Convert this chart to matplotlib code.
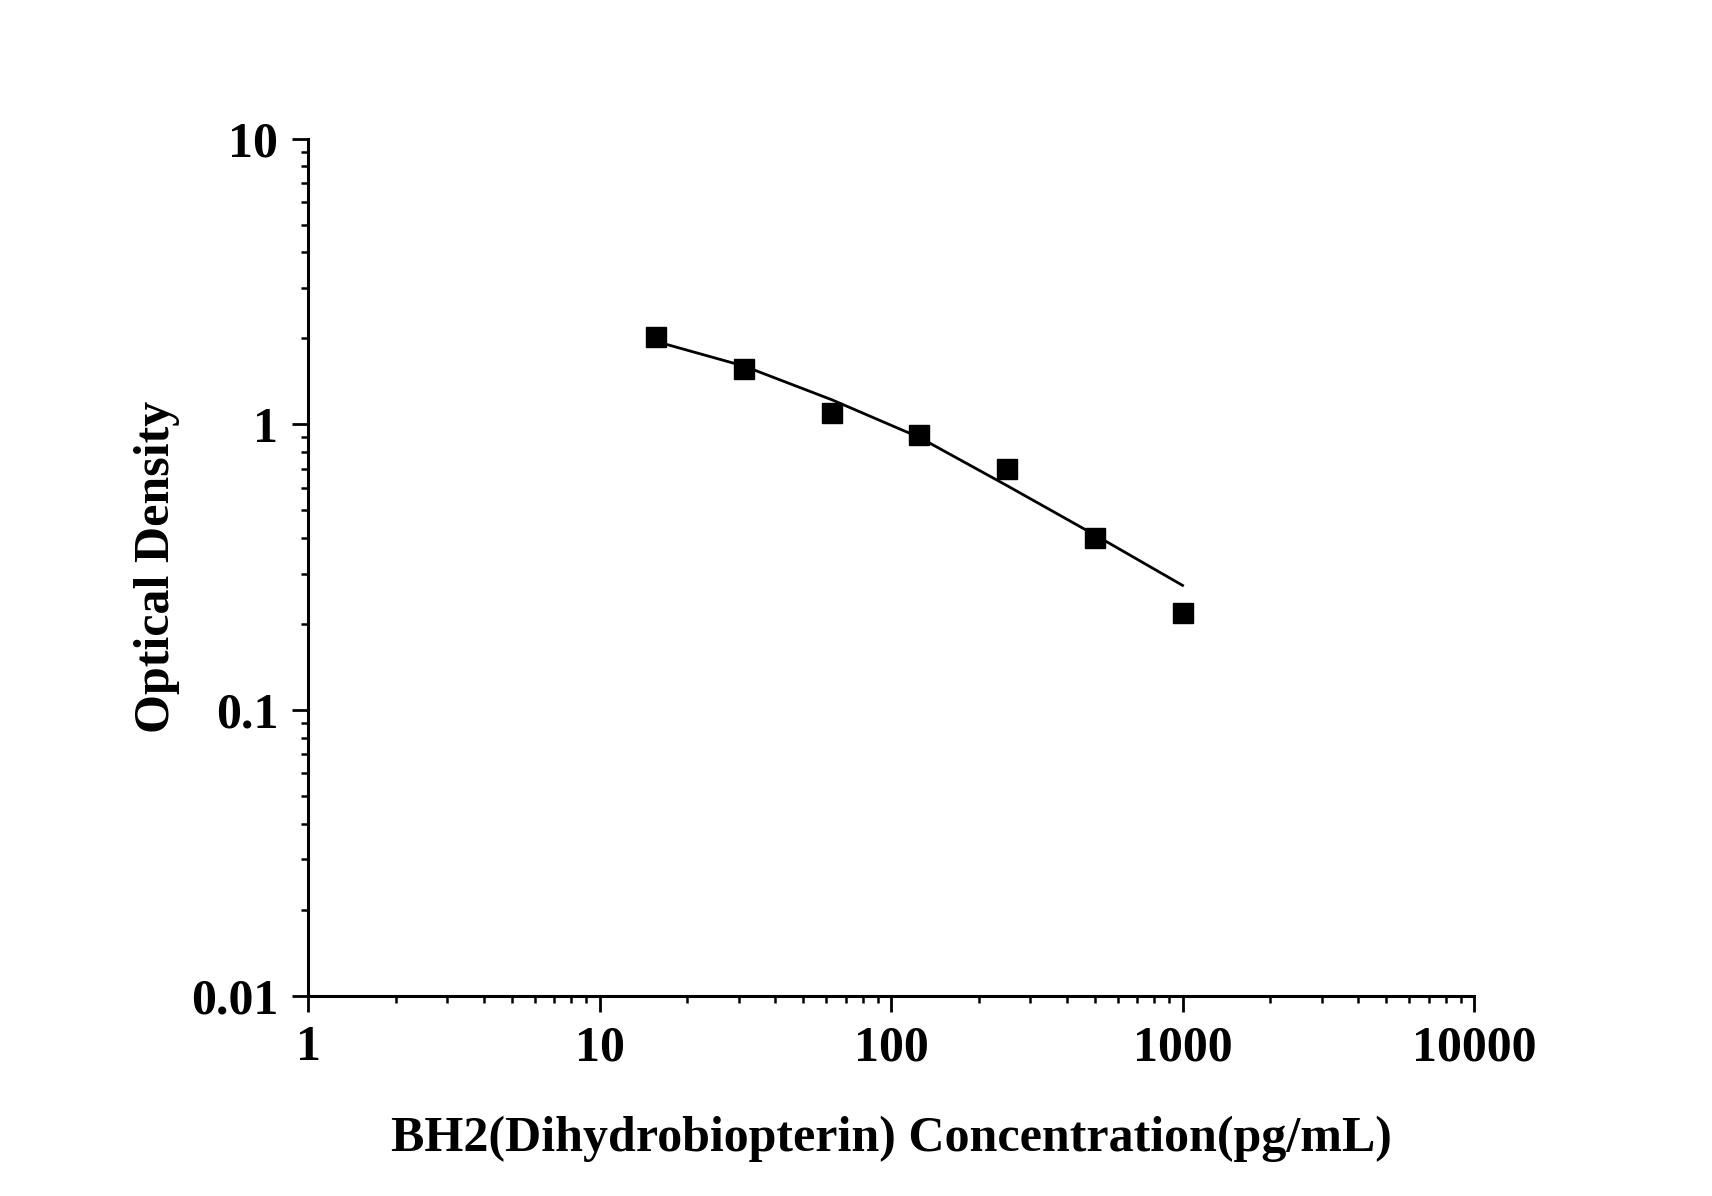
import matplotlib
matplotlib.use("Agg")
import matplotlib.pyplot as plt
from matplotlib.ticker import LogLocator, FixedLocator, NullFormatter, FixedFormatter

conc = [15.625, 31.25, 62.5, 125, 250, 500, 1000]
od = [2.03, 1.56, 1.10, 0.92, 0.70, 0.40, 0.218]
fit_od = [1.95, 1.60, 1.22, 0.90, 0.61, 0.41, 0.273]

xticks = [1, 10, 100, 1000, 10000]
xtick_labels = ["1", "10", "100", "1000", "10000"]
yticks = [0.01, 0.1, 1, 10]
ytick_labels = ["0.01", "0.1", "1", "10"]

plt.rcParams['font.family'] = ['Liberation Serif', 'DejaVu Serif']
plt.rcParams['font.weight'] = 'bold'

fig = plt.figure(figsize=(17.12, 11.96), dpi=100)
ax = fig.add_axes([0.180, 0.1676, 0.681, 0.7164])

ax.plot(conc, fit_od, color='black', lw=2.0, zorder=2)
ax.plot(conc, od, linestyle='none', marker='s', markersize=14, color='black', zorder=3)

ax.set_xscale('log')
ax.set_yscale('log')
ax.set_xlim(1, 10000)
ax.set_ylim(0.01, 10)

ax.xaxis.set_major_locator(FixedLocator(xticks))
ax.xaxis.set_major_formatter(FixedFormatter(xtick_labels))
ax.yaxis.set_major_locator(FixedLocator(yticks))
ax.yaxis.set_major_formatter(FixedFormatter(ytick_labels))
ax.xaxis.set_minor_locator(LogLocator(base=10, subs=range(2, 10), numticks=20))
ax.yaxis.set_minor_locator(LogLocator(base=10, subs=range(2, 10), numticks=20))
ax.xaxis.set_minor_formatter(NullFormatter())
ax.yaxis.set_minor_formatter(NullFormatter())

for s in ['top', 'right']:
    ax.spines[s].set_visible(False)
for s in ['left', 'bottom']:
    ax.spines[s].set_linewidth(2.2)

ax.tick_params(which='major', direction='out', length=11.5, width=2.0, labelsize=36)
ax.tick_params(axis='x', which='major', pad=10)
ax.tick_params(axis='y', which='major', pad=10)
ax.tick_params(which='minor', direction='out', length=5, width=1.8)
for lab in ax.get_xticklabels() + ax.get_yticklabels():
    lab.set_fontweight('bold')

ax.set_xlabel("BH2(Dihydrobiopterin) Concentration(pg/mL)", fontsize=36, fontweight='bold', labelpad=32)
ax.set_ylabel("Optical Density", fontsize=36, fontweight='bold', labelpad=8)

fig.savefig("out.png", dpi=100, facecolor='white')
